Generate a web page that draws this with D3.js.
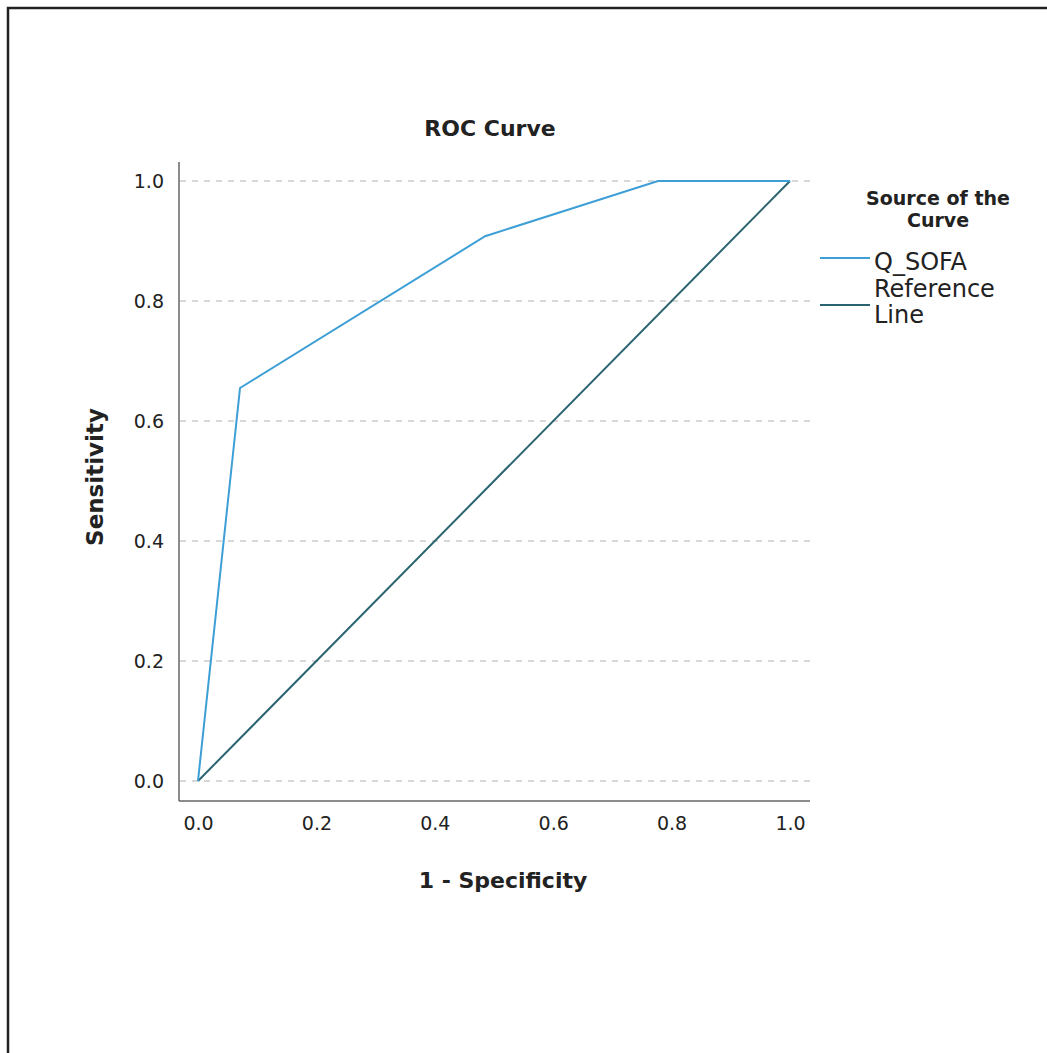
<!DOCTYPE html>
<html>
<head>
<meta charset="utf-8">
<script src="https://cdn.jsdelivr.net/npm/d3@7"></script>
<style>
  body { margin: 0; background: #fff; }
  text { font-family: "DejaVu Sans", sans-serif; fill: #222; }
</style>
</head>
<body>
<div id="chart"></div>
<script>
// ROC points for Q_SOFA (1 - specificity, sensitivity)
var fpr = [0, 0.071, 0.485, 0.777, 1.0];
var tpr = [0, 0.655, 0.908, 1.0, 1.0];
var refX = [0, 1];
var refY = [0, 1];
var ticks = [0, 0.2, 0.4, 0.6, 0.8, 1.0];
var legendNames = ["Q_SOFA", "Reference\nLine"];

function init(){
    var w = 1047, h = 1053;

    var svg = d3.select("#chart").append("svg")
                .attr("width", w)
                .attr("height", h);

    // frame (top + left visible only)
    svg.append("rect")
        .attr("x", 8).attr("y", 8)
        .attr("width", w + 20).attr("height", h + 20)
        .attr("fill", "none")
        .attr("stroke", "#222")
        .attr("stroke-width", 2.5);

    var xScale = d3.scaleLinear().domain([0, 1]).range([198, 790]);
    var yScale = d3.scaleLinear().domain([0, 1]).range([781, 181]);

    // gridlines
    svg.selectAll(".grid")
        .data(ticks)
        .enter()
        .append("line")
            .attr("x1", 180).attr("x2", 810)
            .attr("y1", function(d){ return yScale(d); })
            .attr("y2", function(d){ return yScale(d); })
            .attr("stroke", "#b0b0b0")
            .attr("stroke-dasharray", "6,6")
            .attr("stroke-width", 1);

    // axes
    var yAxis = d3.axisLeft(yScale).tickValues(ticks).tickFormat(d3.format(".1f")).tickSize(0).tickPadding(15);
    var xAxis = d3.axisBottom(xScale).tickValues(ticks).tickFormat(d3.format(".1f")).tickSize(0).tickPadding(16);

    var gy = svg.append("g").attr("transform", "translate(179,0)").call(yAxis);
    var gx = svg.append("g").attr("transform", "translate(0,801)").call(xAxis);
    gy.select(".domain").remove();
    gx.select(".domain").remove();
    svg.selectAll(".tick text")
        .style("font-size", "19px")
        .style("font-family", "'DejaVu Sans', sans-serif")
        .attr("fill", "#222");

    svg.append("line").attr("x1", 179).attr("x2", 179).attr("y1", 162).attr("y2", 801)
        .attr("stroke", "#666").attr("stroke-width", 1.5);
    svg.append("line").attr("x1", 179).attr("x2", 810).attr("y1", 801).attr("y2", 801)
        .attr("stroke", "#666").attr("stroke-width", 1.5);

    var line = d3.line()
        .x(function(d){ return xScale(d[0]); })
        .y(function(d){ return yScale(d[1]); });

    svg.append("path")
        .datum(d3.zip(refX, refY))
        .attr("d", line)
        .attr("fill", "none")
        .attr("stroke", "#2a6470")
        .attr("stroke-width", 2);

    svg.append("path")
        .datum(d3.zip(fpr, tpr))
        .attr("d", line)
        .attr("fill", "none")
        .attr("stroke", "#3d9fd6")
        .attr("stroke-width", 2);

    // titles
    svg.append("text")
        .attr("x", 490).attr("y", 136)
        .attr("text-anchor", "middle")
        .style("font-size", "22px").style("font-weight", "bold")
        .text("ROC Curve");

    svg.append("text")
        .attr("x", 503).attr("y", 888)
        .attr("text-anchor", "middle")
        .style("font-size", "22px").style("font-weight", "bold")
        .text("1 - Specificity");

    svg.append("text")
        .attr("transform", "translate(103,477) rotate(-90)")
        .attr("text-anchor", "middle")
        .style("font-size", "23px").style("font-weight", "bold")
        .text("Sensitivity");

    // legend
    svg.append("text")
        .attr("x", 938).attr("y", 205)
        .attr("text-anchor", "middle")
        .style("font-size", "19px").style("font-weight", "bold")
        .text("Source of the");
    svg.append("text")
        .attr("x", 938).attr("y", 227)
        .attr("text-anchor", "middle")
        .style("font-size", "19px").style("font-weight", "bold")
        .text("Curve");

    var legendColors = ["#3d9fd6", "#2a6470"];
    var legendY = [258, 305];
    svg.selectAll(".legline")
        .data(legendNames)
        .enter()
        .append("line")
            .attr("x1", 820).attr("x2", 870)
            .attr("y1", function(d, i){ return legendY[i]; })
            .attr("y2", function(d, i){ return legendY[i]; })
            .attr("stroke", function(d, i){ return legendColors[i]; })
            .attr("stroke-width", 2);

    svg.append("text")
        .attr("x", 874).attr("y", 270)
        .style("font-size", "24px")
        .text(legendNames[0]);

    var parts = legendNames[1].split("\n");
    svg.append("text")
        .attr("x", 874).attr("y", 297)
        .style("font-size", "24px")
        .text(parts[0]);
    svg.append("text")
        .attr("x", 874).attr("y", 323)
        .style("font-size", "24px")
        .text(parts[1]);
}
window.onload = init;
</script>
</body>
</html>
